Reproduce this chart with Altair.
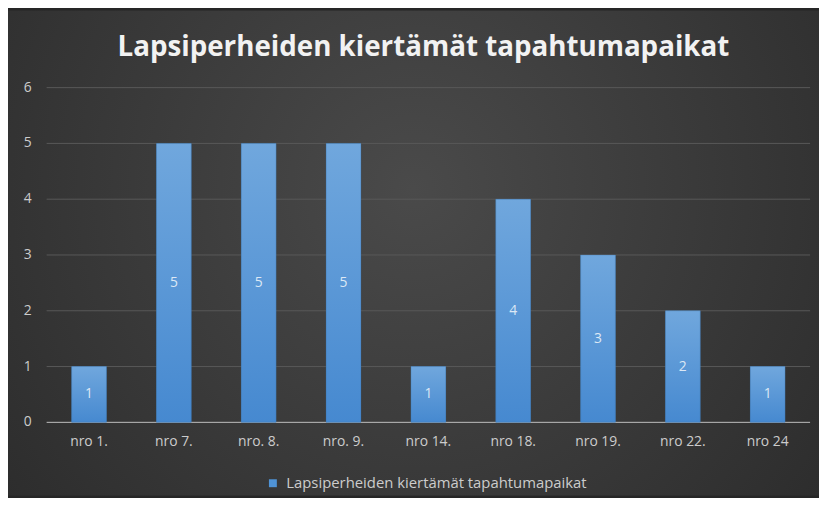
import altair as alt
import pandas as pd

# ---- data ----
categories = ["nro 1.", "nro 7.", "nro. 8.", "nro. 9.", "nro 14.", "nro 18.", "nro 19.", "nro 22.", "nro 24"]
values = [1, 5, 5, 5, 1, 4, 3, 2, 1]
series_name = "Lapsiperheiden kiertämät tapahtumapaikat"
y_ticks = [0, 1, 2, 3, 4, 5, 6]
title_text = "Lapsiperheiden kiertämät tapahtumapaikat"

df = pd.DataFrame({
    "kohde": categories,
    "maara": values,
    "sarja": [series_name] * len(categories),
})
grid_df = pd.DataFrame({"tick": y_ticks})
bg_df = pd.DataFrame({"bg": [0]})
title_df = pd.DataFrame({"t": [title_text]})

W, H = 771, 338
PAD = {"left": 39, "top": 78, "right": 9, "bottom": 74}
FONT = "Open Sans"
LABEL_COLOR = "#cccccc"

x_scale = alt.Scale(paddingInner=0.59, paddingOuter=0.295)
y_scale = alt.Scale(domain=[0, 6], nice=False)
x_enc = alt.X("kohde:N", sort=categories, scale=x_scale, axis=None)

background = alt.Chart(bg_df).mark_rect(
    color=alt.RadialGradient(
        gradient="radial",
        stops=[alt.GradientStop(color="#4a4a4a", offset=0),
               alt.GradientStop(color="#262626", offset=1)],
        x1=0.5, y1=0.42, r1=0, x2=0.5, y2=0.42, r2=0.78,
    )
).encode(
    x=alt.value(-PAD["left"]),
    x2=alt.value({"expr": f"width+{PAD['right']}"}),
    y=alt.value(-PAD["top"]),
    y2=alt.value({"expr": f"height+{PAD['bottom']}"}),
)

grid = alt.Chart(grid_df).mark_rule(strokeWidth=1).encode(
    y=alt.Y("tick:Q", scale=y_scale, axis=None),
    color=alt.condition("datum.tick == 0", alt.value("#bfbfbf"), alt.value("#585858")),
)

y_labels = alt.Chart(grid_df).mark_text(
    font=FONT, fontSize=14, color=LABEL_COLOR, align="right", baseline="middle"
).encode(
    y=alt.Y("tick:Q", scale=y_scale, axis=None),
    x=alt.value(-15),
    text=alt.Text("tick:Q"),
)

x_labels = alt.Chart(df).mark_text(
    font=FONT, fontSize=14, color=LABEL_COLOR, align="center", baseline="top"
).encode(
    x=x_enc,
    y=alt.value({"expr": "height+13"}),
    text=alt.Text("kohde:N"),
)

bars_legend = alt.Chart(df).mark_bar(color="#5b9bd5").encode(
    x=x_enc,
    y=alt.Y("maara:Q", scale=y_scale, axis=None),
    color=alt.Color(
        "sarja:N",
        scale=alt.Scale(domain=[series_name], range=["#4f93d6"]),
        legend=alt.Legend(
            title=None, orient="none", legendX=221, legendY=392,
            symbolType="square", symbolSize=64, symbolStrokeWidth=0,
            labelFont=FONT, labelFontSize=15, labelColor=LABEL_COLOR,
            labelOffset=6, padding=0, labelLimit=500, zindex=2,
        ),
    ),
)

bars_grad = alt.Chart(df).mark_bar(
    color=alt.LinearGradient(
        gradient="linear",
        stops=[alt.GradientStop(color="#70a7dd", offset=0),
               alt.GradientStop(color="#4689d0", offset=1)],
        x1=0, x2=0, y1=0, y2=1,
    ),
    stroke="#3a6fa3", strokeWidth=0.6, strokeOpacity=0.5,
).encode(
    x=x_enc,
    y=alt.Y("maara:Q", scale=y_scale, axis=None),
)

labels = alt.Chart(df).transform_calculate(
    mid="datum.maara / 2"
).mark_text(color="#dce8f5", font=FONT, fontSize=14, baseline="middle").encode(
    x=x_enc,
    y=alt.Y("mid:Q", scale=y_scale, axis=None),
    text=alt.Text("maara:Q"),
)

title = alt.Chart(title_df).mark_text(
    font="Open Sans", fontSize=28, fontWeight="bold", color="#f2f2f2",
    align="center", baseline="alphabetic",
).encode(
    x=alt.value({"expr": "width/2 - 5"}),
    y=alt.value(-32),
    text="t:N",
)

chart = alt.layer(
    background, grid, bars_legend, bars_grad, labels, y_labels, x_labels, title
).properties(
    width=W,
    height=H,
    padding=PAD,
    autosize=alt.AutoSizeParams(type="none"),
    background="#262626",
).configure_view(stroke=None)

chart.save("out.html", embed_options={"renderer": "svg", "actions": False})
